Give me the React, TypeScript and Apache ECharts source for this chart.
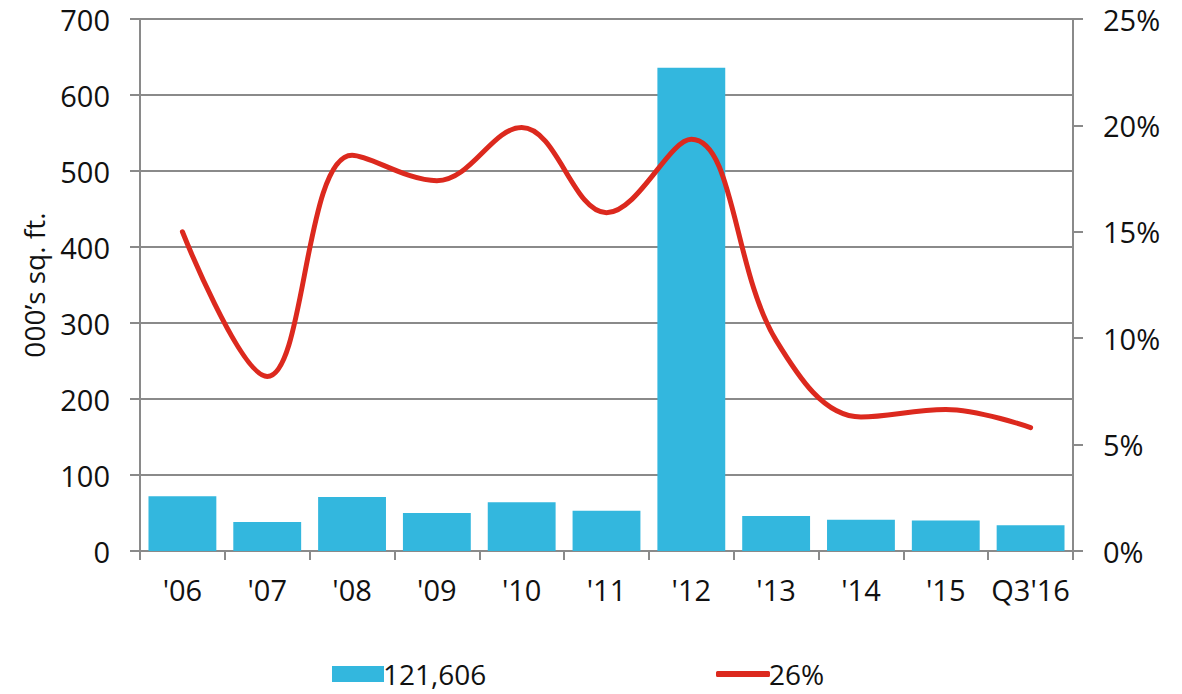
import React, { useEffect, useRef } from "react";
import * as echarts from "echarts";

const categories = ["'06", "'07", "'08", "'09", "'10", "'11", "'12", "'13", "'14", "'15", "Q3'16"];
const barValues = [72, 38, 71, 50, 64, 53, 636, 46, 41, 40, 34];
const lineValues = [15.0, 8.2, 18.6, 17.4, 19.9, 15.9, 19.35, 9.9, 6.3, 6.65, 5.8];
const leftTicks = { min: 0, max: 700, interval: 100 };
const rightTicks = { min: 0, max: 25, interval: 5 };
const barName = "121,606";
const lineName = "26%";

const FONT = "'Open Sans', sans-serif";
const GRAY = "#8a8a8a";

export default function App() {
  const ref = useRef<HTMLDivElement>(null);
  useEffect(() => {
    if (!ref.current) return;
    const chart = echarts.init(ref.current, null, { renderer: "svg" });
    chart.setOption({
      animation: false,
      backgroundColor: "#ffffff",
      textStyle: { fontFamily: FONT, color: "#111" },
      grid: { left: 140, right: 109, top: 19, bottom: 143, containLabel: false },
      legend: [
        {
          data: [{ name: barName, icon: "rect" }],
          left: 332,
          top: 656,
          padding: 0,
          itemWidth: 52,
          itemHeight: 16,
          itemGap: 0,
          textStyle: { fontFamily: FONT, fontSize: 28, color: "#111", lineHeight: 36, padding: [0, 0, 0, -6] },
          selectedMode: false,
        },
        {
          data: [{ name: lineName, icon: "roundRect" }],
          left: 716,
          top: 656,
          padding: 0,
          itemWidth: 54,
          itemHeight: 6,
          itemStyle: { color: "#dc291e", borderWidth: 0 },
          textStyle: { fontFamily: FONT, fontSize: 28, color: "#111", lineHeight: 36, padding: [0, 0, 0, -6] },
          selectedMode: false,
        },
      ],
      xAxis: {
        type: "category",
        data: categories,
        boundaryGap: true,
        axisLine: { show: true, lineStyle: { color: GRAY, width: 2 } },
        axisTick: { show: true, length: 9, lineStyle: { color: GRAY, width: 2 }, alignWithLabel: false, interval: 0 },
        axisLabel: { fontFamily: FONT, fontSize: 29, color: "#111", margin: 24, interval: 0 },
        splitLine: { show: false },
      },
      yAxis: [
        {
          type: "value",
          min: leftTicks.min,
          max: leftTicks.max,
          interval: leftTicks.interval,
          position: "left",
          name: "000’s sq. ft.",
          nameLocation: "middle",
          nameGap: 92,
          nameTextStyle: { fontFamily: FONT, fontSize: 28, color: "#111" },
          axisLine: { show: true, lineStyle: { color: GRAY, width: 2 } },
          axisTick: { show: true, length: 10, inside: false, lineStyle: { color: GRAY, width: 2 } },
          axisLabel: { fontFamily: FONT, fontSize: 29, color: "#111", margin: 30 },
          splitLine: { show: true, lineStyle: { color: GRAY, width: 2 } },
        },
        {
          type: "value",
          min: rightTicks.min,
          max: rightTicks.max,
          interval: rightTicks.interval,
          position: "right",
          axisLine: { show: true, lineStyle: { color: GRAY, width: 2 } },
          axisTick: { show: true, length: 10, inside: false, lineStyle: { color: GRAY, width: 2 } },
          axisLabel: { fontFamily: FONT, fontSize: 29, color: "#111", margin: 30, formatter: "{value}%" },
          splitLine: { show: false },
        },
      ],
      series: [
        {
          name: barName,
          type: "bar",
          data: barValues,
          yAxisIndex: 0,
          barWidth: "80%",
          itemStyle: { color: "#33b7de" },
        },
        {
          name: lineName,
          type: "line",
          data: lineValues,
          yAxisIndex: 1,
          smooth: 0.38,
          symbol: "none",
          showSymbol: false,
          lineStyle: { color: "#dc291e", width: 5, cap: "round" },
          itemStyle: { color: "#dc291e" },
        },
      ],
    });
    return () => chart.dispose();
  }, []);
  return <div ref={ref} style={{ width: 1182, height: 694, position: "absolute", left: 0, top: 0 }} />;
}
